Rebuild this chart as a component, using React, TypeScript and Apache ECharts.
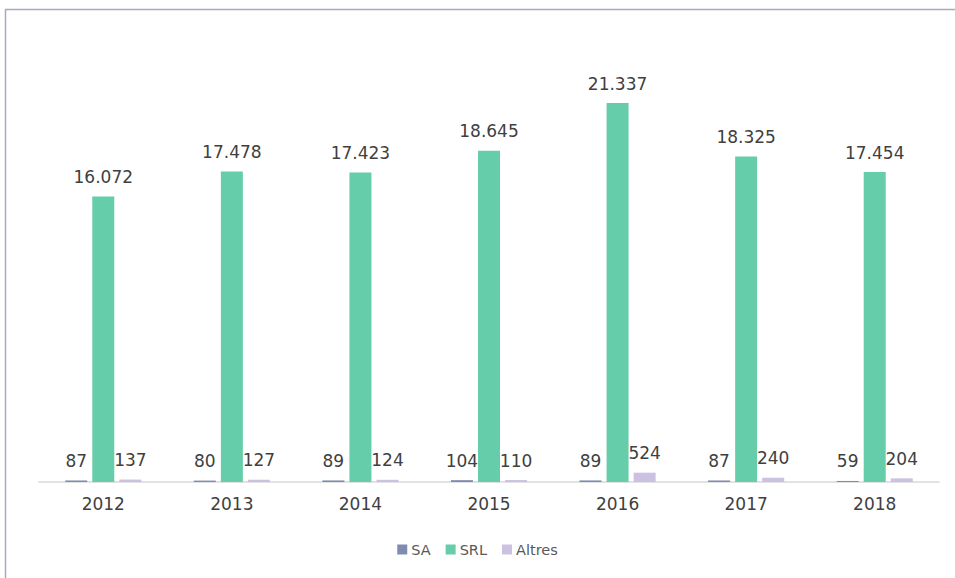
import React, { useEffect, useRef } from "react";
import * as echarts from "echarts";

const categories = ["2012", "2013", "2014", "2015", "2016", "2017", "2018"];
const saValues = [87, 80, 89, 104, 89, 87, 59];
const srlValues = [16072, 17478, 17423, 18645, 21337, 18325, 17454];
const altresValues = [137, 127, 124, 110, 524, 240, 204];

const fmt = (v: number) => String(v).replace(/\B(?=(\d{3})+(?!\d))/g, ".");
const FONT = "DejaVu Sans";

export default function App() {
  const ref = useRef<HTMLDivElement>(null);
  useEffect(() => {
    const chart = echarts.init(ref.current!, null, { renderer: "svg" });
    const label = {
      show: true,
      position: "top" as const,
      distance: 11,
      color: "#404040",
      fontSize: 17,
      fontFamily: FONT,
      formatter: (p: any) => fmt(p.value),
    };
    chart.setOption({
      animation: false,
      backgroundColor: "#ffffff",
      textStyle: { fontFamily: FONT },
      grid: { left: 39, right: 16, top: 38, bottom: 96 },
      legend: {
        bottom: 16,
        left: "center",
        itemWidth: 10,
        itemHeight: 10,
        itemGap: 15,
        icon: "rect",
        textStyle: { color: "#595959", fontSize: 14.5, fontFamily: FONT, padding: [0, 0, 0, -1] },
        data: ["SA", "SRL", "Altres"],
      },
      xAxis: {
        type: "category",
        data: categories,
        axisLine: { lineStyle: { color: "#d9d9d9", width: 1.5 } },
        axisTick: { show: false },
        axisLabel: { color: "#404040", fontSize: 17, margin: 13, fontFamily: FONT },
      },
      yAxis: {
        type: "value",
        min: 0,
        max: 25000,
        show: false,
        splitLine: { show: false },
      },
      graphic: [
        { type: "line", shape: { x1: 5, y1: 9.5, x2: 955, y2: 9.5 }, style: { stroke: "#a3abc2", lineWidth: 1.5 } },
        { type: "line", shape: { x1: 5.5, y1: 9, x2: 5.5, y2: 578 }, style: { stroke: "#a3abc2", lineWidth: 1.5 } },
      ],
      series: [
        { name: "SA", type: "bar", data: saValues, barWidth: 22, barGap: "23%", itemStyle: { color: "#7f8cb1" }, label },
        { name: "SRL", type: "bar", data: srlValues, barWidth: 22, barGap: "23%", itemStyle: { color: "#66cdaa" }, label },
        { name: "Altres", type: "bar", data: altresValues, barWidth: 22, barGap: "23%", itemStyle: { color: "#ccc1e0" }, label },
      ],
    });
    return () => chart.dispose();
  }, []);
  return (
    <div style={{ position: "fixed", left: 0, top: 0, width: 955, height: 578 }}>
      <div ref={ref} style={{ width: 955, height: 578 }} />
    </div>
  );
}
